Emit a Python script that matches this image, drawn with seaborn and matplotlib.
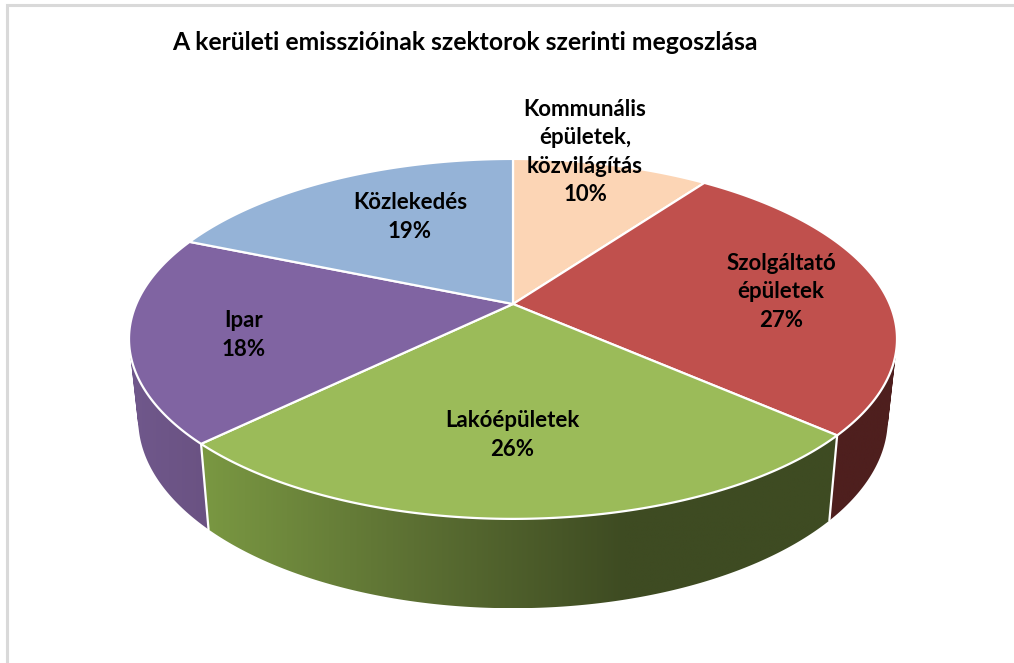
import numpy as np
import seaborn as sns
import matplotlib.pyplot as plt
from matplotlib.path import Path
from matplotlib.patches import PathPatch

# Slices, clockwise from the top
sectors = ['Kommunális\népületek,\nközvilágítás', 'Szolgáltató\népületek', 'Lakóépületek', 'Ipar', 'Közlekedés']
values = [10, 26.5, 26.2, 18.6, 18.7]
percents = ['10%', '27%', '26%', '18%', '19%']
title = 'A kerületi emisszióinak szektorok szerinti megoszlása'

top_colors = ['#FCD5B5', '#C0504D', '#9BBB59', '#8064A2', '#95B3D7']
# Side shading left to right, only three slices show a side
side_colors = {
    1: ['#4E1F1E', '#4E1F1E'],
    2: ['#7A9842', '#5C7033', '#3E4B22', '#3E4B22'],
    3: ['#70588C', '#6A5282'],
}
label_pos = [(585, 152), (781, 292), (512, 435), (244, 335), (410, 217)]

CX, CY = 513, 304
RX, RY_SCALE, PERSP = 376.7, 173.2, 0.194


def top_point(t):
    # t is the clockwise angle from the top, perspective on the disk
    w = 1 + PERSP * np.cos(t)
    return CX + RX * np.sin(t) / w, CY - RY_SCALE * np.cos(t) / w


def bottom_point(t):
    x, y = top_point(t)
    return CX + 0.976 * (x - CX), 382.6 + 1.05 * (y - CY)


def side_path(xt, yt, xb, yb):
    # Strip of small quads, all wound the same way so the fold does not cancel out
    quads = []
    for j in range(len(xt) - 1):
        q = np.array([(xt[j], yt[j]), (xt[j + 1], yt[j + 1]), (xb[j + 1], yb[j + 1]), (xb[j], yb[j]), (xt[j], yt[j])])
        area = np.sum(q[:-1, 0] * q[1:, 1] - q[1:, 0] * q[:-1, 1])
        if area < 0:
            q = q[::-1]
        quads.append(Path(q, closed=True))
    return Path.make_compound_path(*quads)


sns.set_theme(style='white')
plt.rcParams['font.family'] = ['Lato', 'DejaVu Sans']

fig = plt.figure(figsize=(10.14, 6.63), dpi=100)
ax = fig.add_axes([0, 0, 1, 1])
ax.axis('off')

# Frame of the pasted chart
ax.plot([6.5, 6.5, 1014], [663, 5, 5], color='#D9D9D9', lw=2.2, solid_joinstyle='miter')

edges = np.cumsum([0] + values) / sum(values) * 2 * np.pi

# Sides first, the top disk covers what is behind
for i, stops in side_colors.items():
    t = np.linspace(edges[i], edges[i + 1], 260)
    xt, yt = top_point(t)
    xb, yb = bottom_point(t)
    ramp = np.array(sns.blend_palette(stops, 256))[np.newaxis, :, :]
    x0, x1 = min(xt.min(), xb.min()), max(xt.max(), xb.max())
    y0, y1 = min(yt.min(), yb.min()), max(yt.max(), yb.max())
    img = ax.imshow(ramp, extent=(x0, x1, y1, y0), aspect='auto', interpolation='bilinear', zorder=2)
    img.set_clip_path(PathPatch(side_path(xt, yt, xb, yb), transform=ax.transData))

ax.set_xlim(0, 1014)
ax.set_ylim(663, 0)

# White lines between the sides
for e in edges[2:4]:
    xa, ya = top_point(e)
    xb, yb = bottom_point(e)
    ax.plot([xa, xb], [ya, yb], color='white', lw=1.6, zorder=3)

# Top of the pie
for i, c in enumerate(top_colors):
    t = np.linspace(edges[i], edges[i + 1], 200)
    xs, ys = top_point(t)
    ax.fill(np.r_[CX, xs], np.r_[CY, ys], facecolor=c, edgecolor='white', lw=1.6, joinstyle='round', zorder=4)

ax.text(172, 42, title, fontsize=17.85, fontweight='bold', color='black', ha='left', va='center', zorder=6)

for name, pct, (x, y) in zip(sectors, percents, label_pos):
    ax.text(x, y, name + '\n' + pct, fontsize=16, fontweight='bold', color='black',
            ha='center', va='center', linespacing=1.44, zorder=6)

fig.savefig('out.png', dpi=100)
